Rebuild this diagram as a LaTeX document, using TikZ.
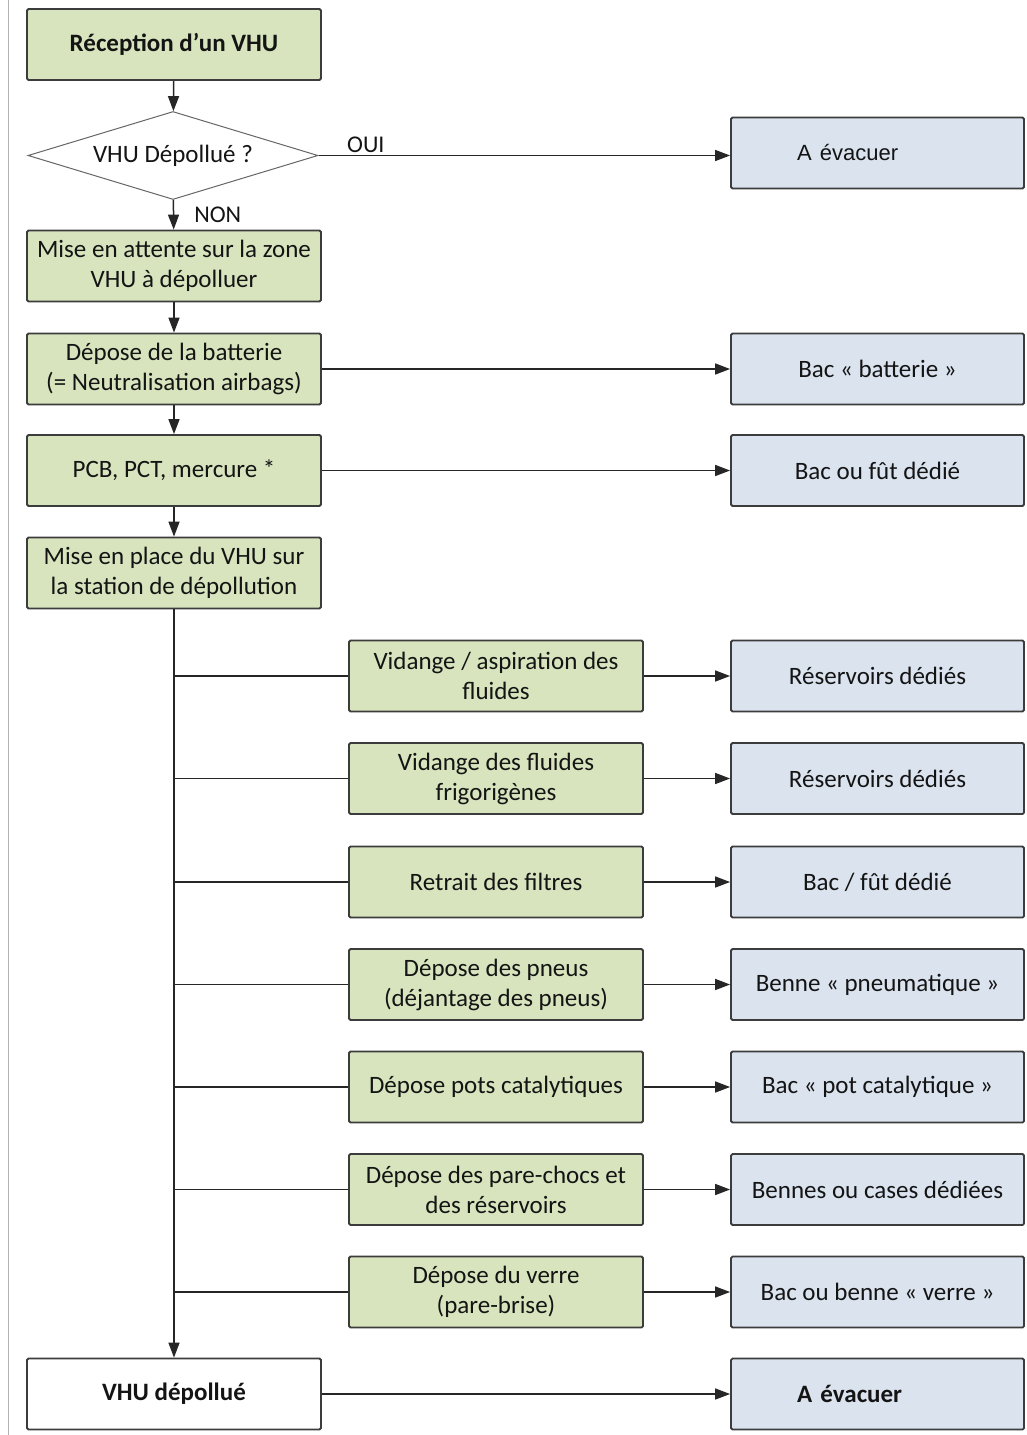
\documentclass[tikz,border=0pt]{standalone}
\usepackage{fontspec}
\setmainfont{Carlito}
\newfontfamily\arialfont{Liberation Sans}
\usetikzlibrary{shapes.geometric,arrows.meta}
\definecolor{stepgreen}{HTML}{D7E4BD}
\definecolor{binblue}{HTML}{DAE3EE}
\definecolor{edgegray}{HTML}{3C3C3C}
\tikzset{
  stepbox/.style={draw=edgegray, line width=1.8pt, fill=stepgreen, rounded corners=1.5pt,
    minimum width=294pt, minimum height=71pt, align=center, text=black!92,
    inner sep=4pt, font=\fontsize{25}{30}\selectfont},
  binbox/.style={stepbox, fill=binblue, minimum width=293pt},
  endbox/.style={stepbox, fill=white},
  question/.style={diamond, aspect=3.3, draw=black!60, line width=1pt, fill=white,
    minimum width=290pt, minimum height=88pt, inner sep=0pt,
    font=\fontsize{25}{30}\selectfont, text=black!92},
  flow/.style={line width=1.5pt, draw=black!85, -{Triangle[length=15pt,width=11pt]}},
  branch/.style={line width=1.5pt, draw=black!85},
  answer/.style={font=\fontsize{24}{28}\selectfont, text=black!92, inner sep=2pt},
}
\begin{document}
\begin{tikzpicture}[x=1pt, y=-1pt]
\useasboundingbox (0,0) rectangle (1027,1435);
\draw[black!30, line width=1pt] (8,0) -- (8,1435);

% main column
\node[stepbox] (rec) at (174,44.5) {\bfseries Réception d’un VHU};
\node[question] (dia) at (173,155.5) {VHU Dépollué ?};
\node[stepbox] (attente) at (174,266) {Mise en attente sur la zone\\VHU à dépolluer};
\node[stepbox] (batt) at (174,369) {Dépose de la batterie\\(= Neutralisation airbags)};
\node[stepbox] (pcb) at (174,470.5) {PCB, PCT, mercure *};
\node[stepbox] (place) at (174,573) {Mise en place du VHU sur\\la station de dépollution};
\node[endbox] (final) at (174,1394) {\bfseries VHU dépollué};

% bins
\node[binbox, text width=285pt, align=left] (evac1) at (877.5,153)
  {\hspace*{62pt}\fontsize{22}{26}\selectfont\arialfont A évacuer};
\node[binbox] (bac1) at (877.5,369) {Bac « batterie »};
\node[binbox] (bac2) at (877.5,470.5) {Bac ou fût dédié};
\node[binbox, text width=285pt, align=left] (evac2) at (877.5,1394)
  {\hspace*{62pt}\bfseries A évacuer};

% station steps
\node[stepbox] (vid) at (496,676) {Vidange / aspiration des\\fluides};
\node[stepbox] (frig) at (496,778.5) {Vidange des fluides\\frigorigènes};
\node[stepbox] (filt) at (496,882) {Retrait des filtres};
\node[stepbox] (pneu) at (496,984.5) {Dépose des pneus\\(déjantage des pneus)};
\node[stepbox] (pots) at (496,1087) {Dépose pots catalytiques};
\node[stepbox] (choc) at (496,1189.5) {Dépose des pare-chocs et\\des réservoirs};
\node[stepbox] (verre) at (496,1292) {Dépose du verre\\(pare-brise)};

\node[binbox] (res1) at (877.5,676) {Réservoirs dédiés};
\node[binbox] (res2) at (877.5,778.5) {Réservoirs dédiés};
\node[binbox] (bfilt) at (877.5,882) {Bac / fût dédié};
\node[binbox] (bpneu) at (877.5,984.5) {Benne « pneumatique »};
\node[binbox] (bpots) at (877.5,1087) {Bac « pot catalytique »};
\node[binbox] (bchoc) at (877.5,1189.5) {Bennes ou cases dédiées};
\node[binbox] (bverre) at (877.5,1292) {Bac ou benne « verre »};

% connectors
\draw[flow] (rec) -- (dia);
\draw[flow] (dia.east) -- node[answer, above, pos=0.115] {OUI} (evac1.west |- dia.east);
\draw[flow] (dia) -- node[answer, right, pos=0.5, xshift=18pt] {NON} (attente);
\draw[flow] (attente) -- (batt);
\draw[flow] (batt) -- (bac1);
\draw[flow] (batt) -- (pcb);
\draw[flow] (pcb) -- (bac2);
\draw[flow] (pcb) -- (place);
\draw[flow] (place) -- (final);
\draw[branch] (place.south |- vid.west) -- (vid);
\draw[branch] (place.south |- frig.west) -- (frig);
\draw[branch] (place.south |- filt.west) -- (filt);
\draw[branch] (place.south |- pneu.west) -- (pneu);
\draw[branch] (place.south |- pots.west) -- (pots);
\draw[branch] (place.south |- choc.west) -- (choc);
\draw[branch] (place.south |- verre.west) -- (verre);
\draw[flow] (vid) -- (res1);
\draw[flow] (frig) -- (res2);
\draw[flow] (filt) -- (bfilt);
\draw[flow] (pneu) -- (bpneu);
\draw[flow] (pots) -- (bpots);
\draw[flow] (choc) -- (bchoc);
\draw[flow] (verre) -- (bverre);
\draw[flow] (final) -- (evac2);
\end{tikzpicture}
\end{document}
